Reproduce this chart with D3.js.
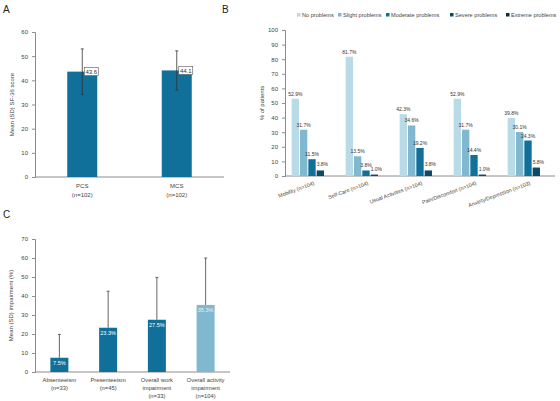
<!DOCTYPE html>
<html>
<head>
<meta charset="utf-8">
<script src="https://cdn.jsdelivr.net/npm/d3@7"></script>
<style>
  body { margin: 0; background: #fff; }
  svg { font-family: "Liberation Sans", Arial, sans-serif; }
  .axis path, .axis line { stroke: #8c8c8c; }
  .axis text { fill: #444; }
</style>
</head>
<body>
<div id="chart"></div>
<script>
// Panel A: SF-36
const sfCats = ["PCS", "MCS"];
const sfN = ["(n=102)", "(n=102)"];
const sfMean = [43.6, 44.1];
const sfSD = [9.4, 8.1];
const sfTicks = [0, 10, 20, 30, 40, 50, 60];

// Panel B: EQ-5D
const eqDims = ["Mobility (n=104)", "Self-Care (n=104)", "Usual Activities (n=104)", "Pain/Discomfort (n=104)", "Anxiety/Depression (n=103)"];
const eqLevels = ["No problems", "Slight problems", "Moderate problems", "Severe problems", "Extreme problems"];
const eqNone = [52.9, 81.7, 42.3, 52.9, 39.8];
const eqSlight = [31.7, 13.5, 34.6, 31.7, 30.1];
const eqModerate = [11.5, 3.8, 19.2, 14.4, 24.3];
const eqSevere = [3.8, 1.0, 3.8, 1.0, 5.8];
const eqExtreme = [0, 0, 0, 0, 0];
const eqTicks = [0, 10, 20, 30, 40, 50, 60, 70, 80, 90, 100];

// Panel C: WPAI
const wpCats = [["Absenteeism", "(n=33)"], ["Presenteeism", "(n=45)"], ["Overall work", "impairment", "(n=33)"], ["Overall activity", "impairment", "(n=104)"]];
const wpMean = [7.5, 23.3, 27.5, 35.3];
const wpSD = [12.3, 19.2, 22.3, 24.7];
const wpTicks = [0, 10, 20, 30, 40, 50, 60, 70];

const eqColors = ["#b9dbe8", "#80b8d0", "#10709a", "#0d4a68", "#0a2d44"];
const dark = "#10709a";
const light = "#80b8d0";

const svg = d3.select("#chart").append("svg").attr("width", 560).attr("height", 401);

const panelLabel = (x, y, t) => svg.append("text").attr("x", x).attr("y", y).attr("font-size", 10).attr("fill", "#222").text(t);
panelLabel(3, 13, "A");
panelLabel(222, 13, "B");
panelLabel(3, 218, "C");

function yAxis(g, scale, ticks) {
  g.attr("class", "axis")
    .call(d3.axisLeft(scale).tickValues(ticks).tickSize(3).tickPadding(4))
    .call((a) => a.selectAll("text").attr("font-size", 6));
}

// ---------- A ----------
{
  const x = d3.scaleBand().domain(sfCats).range([35, 224]);
  const y = d3.scaleLinear().domain([0, 60]).range([177, 32]);
  const g = svg.append("g");
  yAxis(g.append("g").attr("transform", "translate(35,0)"), y, sfTicks);
  g.append("line").attr("x1", 35).attr("x2", 224).attr("y1", y(0)).attr("y2", y(0)).attr("stroke", "#8c8c8c");
  sfCats.forEach((c, i) => {
    const cx = x(c) + x.bandwidth() / 2;
    g.append("rect").attr("x", cx - 15).attr("width", 30).attr("y", y(sfMean[i])).attr("height", y(0) - y(sfMean[i])).attr("fill", dark);
    const top = y(sfMean[i] + sfSD[i]), bot = y(sfMean[i] - sfSD[i]);
    g.append("line").attr("x1", cx).attr("x2", cx).attr("y1", top).attr("y2", bot).attr("stroke", "#333").attr("stroke-width", 0.8);
    [top, bot].forEach((yy) => g.append("line").attr("x1", cx - 1.5).attr("x2", cx + 1.5).attr("y1", yy).attr("y2", yy).attr("stroke", "#333").attr("stroke-width", 0.8));
    const lb = g.append("g").attr("transform", `translate(${cx + 2},${y(sfMean[i])})`);
    lb.append("rect").attr("x", 0).attr("y", -4).attr("width", 14).attr("height", 8).attr("fill", "#fff").attr("stroke", "#555").attr("stroke-width", 0.6);
    lb.append("text").attr("x", 7).attr("y", 2.2).attr("text-anchor", "middle").attr("font-size", 6).attr("fill", "#333").text(sfMean[i].toFixed(1));
    g.append("text").attr("x", cx).attr("y", 188).attr("text-anchor", "middle").attr("font-size", 6).attr("fill", "#444").text(c);
    g.append("text").attr("x", cx).attr("y", 197).attr("text-anchor", "middle").attr("font-size", 6).attr("fill", "#444").text(sfN[i]);
  });
  g.append("text").attr("transform", `translate(14,${y(30)}) rotate(-90)`).attr("text-anchor", "middle").attr("font-size", 6).attr("fill", "#444").text("Mean (SD) SF-36 score");
}

// ---------- B ----------
{
  const series = [eqNone, eqSlight, eqModerate, eqSevere, eqExtreme];
  const x0 = d3.scaleBand().domain(eqDims).range([285, 555]);
  const x1 = d3.scaleBand().domain(eqLevels).range([0, x0.bandwidth()]).paddingInner(0.12).paddingOuter(0.8);
  const y = d3.scaleLinear().domain([0, 100]).range([176, 30]);
  const g = svg.append("g");
  yAxis(g.append("g").attr("transform", "translate(285,0)"), y, eqTicks);
  g.append("line").attr("x1", 285).attr("x2", 555).attr("y1", y(0)).attr("y2", y(0)).attr("stroke", "#8c8c8c");
  eqDims.forEach((d, i) => {
    const grp = g.append("g").attr("transform", `translate(${x0(d)},0)`);
    eqLevels.forEach((lv, j) => {
      const v = series[j][i];
      if (v <= 0) return;
      grp.append("rect").attr("x", x1(lv)).attr("width", x1.bandwidth()).attr("y", y(v)).attr("height", y(0) - y(v)).attr("fill", eqColors[j]);
      grp.append("text").attr("x", x1(lv) + x1.bandwidth() / 2 + (j === 3 ? 2 : 0)).attr("y", y(v) - (j === 3 ? 4 : 3)).attr("text-anchor", "middle").attr("font-size", 5).attr("fill", "#333").text(v.toFixed(1) + "%");
    });
    const cx = x0(d) + x0.bandwidth() / 2;
    g.append("text").attr("transform", `translate(${cx + 2},${y(0) + 7}) rotate(-20)`).attr("text-anchor", "end").attr("dy", "0.35em").attr("font-size", 5.3).attr("fill", "#444").text(d);
  });
  g.append("text").attr("transform", `translate(264,${y(50)}) rotate(-90)`).attr("text-anchor", "middle").attr("font-size", 6).attr("fill", "#444").text("% of patients");
  const legX = [297, 338, 386, 450, 506];
  eqLevels.forEach((lv, j) => {
    g.append("rect").attr("x", legX[j]).attr("y", 13).attr("width", 3.5).attr("height", 3.5).attr("fill", eqColors[j]);
    g.append("text").attr("x", legX[j] + 5).attr("y", 17).attr("font-size", 5.6).attr("fill", "#444").text(lv);
  });
}

// ---------- C ----------
{
  const x = d3.scaleBand().domain(d3.range(wpCats.length)).range([35, 230]);
  const y = d3.scaleLinear().domain([0, 70]).range([372, 239]);
  const g = svg.append("g");
  yAxis(g.append("g").attr("transform", "translate(35,0)"), y, wpTicks);
  g.append("line").attr("x1", 35).attr("x2", 230).attr("y1", y(0)).attr("y2", y(0)).attr("stroke", "#8c8c8c");
  wpCats.forEach((lines, i) => {
    const cx = x(i) + x.bandwidth() / 2;
    const fill = i === 3 ? light : dark;
    const top = y(wpMean[i] + wpSD[i]);
    g.append("line").attr("x1", cx).attr("x2", cx).attr("y1", top).attr("y2", y(wpMean[i])).attr("stroke", "#555").attr("stroke-width", 0.9);
    g.append("line").attr("x1", cx - 1.5).attr("x2", cx + 1.5).attr("y1", top).attr("y2", top).attr("stroke", "#555").attr("stroke-width", 0.9);
    g.append("rect").attr("x", cx - 9).attr("width", 18).attr("y", y(wpMean[i])).attr("height", y(0) - y(wpMean[i])).attr("fill", fill);
    g.append("text").attr("x", cx).attr("y", y(wpMean[i]) + 7).attr("text-anchor", "middle").attr("font-size", 5.5).attr("fill", i === 3 ? "#e8f2f6" : "#fff").text(wpMean[i].toFixed(1) + "%");
    lines.forEach((t, k) => {
      g.append("text").attr("x", cx).attr("y", 382 + k * 8).attr("text-anchor", "middle").attr("font-size", 5.8).attr("fill", "#444").text(t);
    });
  });
  g.append("text").attr("transform", `translate(13,${y(35)}) rotate(-90)`).attr("text-anchor", "middle").attr("font-size", 6).attr("fill", "#444").text("Mean (SD) impairment (%)");
}
</script>
</body>
</html>
